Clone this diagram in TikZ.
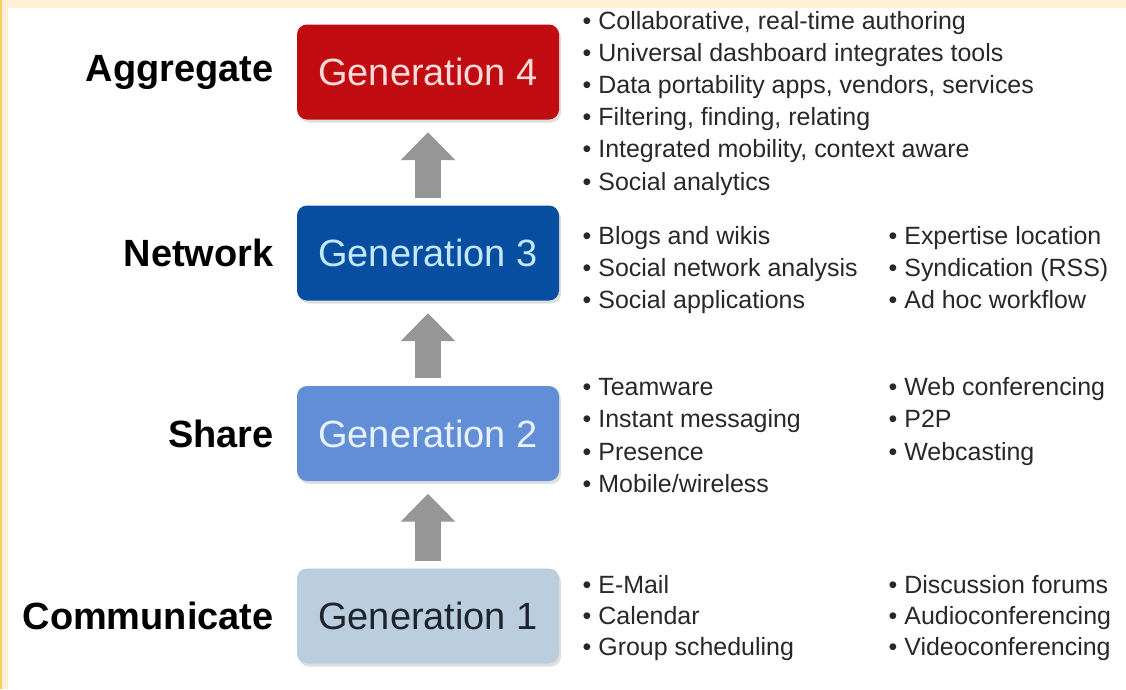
\documentclass[tikz,border=0pt]{standalone}
\usepackage{fontspec}
\setmainfont{Liberation Sans}
\usetikzlibrary{positioning,arrows.meta,shadows}

\definecolor{cream}{RGB}{253,240,212}
\definecolor{stripe}{RGB}{250,205,95}
\definecolor{genfour}{RGB}{192,12,16}
\definecolor{genthree}{RGB}{8,78,160}
\definecolor{gentwo}{RGB}{98,142,215}
\definecolor{genone}{RGB}{186,206,222}
\definecolor{arrowgray}{RGB}{150,150,150}
\definecolor{listgray}{RGB}{40,40,40}

\begin{document}
\begin{tikzpicture}[
    gen/.style={rounded corners=0.1cm, minimum width=2.62cm, minimum height=0.95cm,
        font=\fontsize{10.8}{13}\selectfont,
        drop shadow={opacity=0.25, shadow xshift=0.02cm, shadow yshift=-0.03cm}},
    stage/.style={font=\fontsize{10.8}{13}\selectfont\bfseries, inner sep=0pt},
    item/.style={anchor=base west, inner sep=0pt, text=listgray, font=\fontsize{7.1}{9}\selectfont},
    uparrow/.style={draw=arrowgray, line width=0.26cm, -{Triangle[width=0.53cm, length=0.28cm]},
        shorten <=0.07cm, shorten >=0.12cm}
]
    \useasboundingbox (0,0) rectangle (11.26,6.89);
    \fill [cream] (0,0) rectangle (11.26,6.89); % frame
    \fill [white] (0.08,0) rectangle (11.26,6.81);
    \fill [stripe] (0,0) rectangle (0.025,6.89);

    % generations
    \node [gen, fill=genfour, text={rgb,255:red,255;green,218;blue,218}] (g4) at (4.28,6.17) {Generation 4};
    \node [gen, fill=genthree, text={rgb,255:red,195;green,232;blue,255}] (g3) at (4.28,4.36) {Generation 3};
    \node [gen, fill=gentwo, text={rgb,255:red,232;green,242;blue,255}] (g2) at (4.28,2.555) {Generation 2};
    \node [gen, fill=genone, text={rgb,255:red,30;green,35;blue,45}] (g1) at (4.28,0.73) {Generation 1};

    \node [stage, left=0.22cm of g4] (aggregate) {Aggregate};
    \node [stage, left=0.22cm of g3] (network) {Network};
    \node [stage, left=0.22cm of g2] (share) {Share};
    \node [stage, left=0.22cm of g1] (communicate) {Communicate};

    \draw [uparrow] (g1.north) -- (g2.south);
    \draw [uparrow] (g2.north) -- (g3.south);
    \draw [uparrow] (g3.north) -- (g4.south);

    % lists
    \foreach \t [count=\i] in {{Collaborative, real-time authoring}, Universal dashboard integrates tools,
        {Data portability apps, vendors, services}, {Filtering, finding, relating},
        {Integrated mobility, context aware}, Social analytics}
        \node [item] (agg\i) at (5.82, 6.922-0.322*\i) {• \t};
    \foreach \t [count=\i] in {Blogs and wikis, Social network analysis, Social applications}
        \node [item] (neta\i) at (5.82, 4.77-0.32*\i) {• \t};
    \foreach \t [count=\i] in {Expertise location, Syndication (RSS), Ad hoc workflow}
        \node [item] (netb\i) at (8.88, 4.77-0.32*\i) {• \t};
    \foreach \t [count=\i] in {Teamware, Instant messaging, Presence, Mobile/wireless}
        \node [item] (sharea\i) at (5.82, 3.265-0.325*\i) {• \t};
    \foreach \t [count=\i] in {Web conferencing, P2P, Webcasting}
        \node [item] (shareb\i) at (8.88, 3.265-0.325*\i) {• \t};
    \foreach \t [count=\i] in {E-Mail, Calendar, Group scheduling}
        \node [item] (coma\i) at (5.82, 1.27-0.31*\i) {• \t};
    \foreach \t [count=\i] in {Discussion forums, Audioconferencing, Videoconferencing}
        \node [item] (comb\i) at (8.88, 1.27-0.31*\i) {• \t};
\end{tikzpicture}
\end{document}
